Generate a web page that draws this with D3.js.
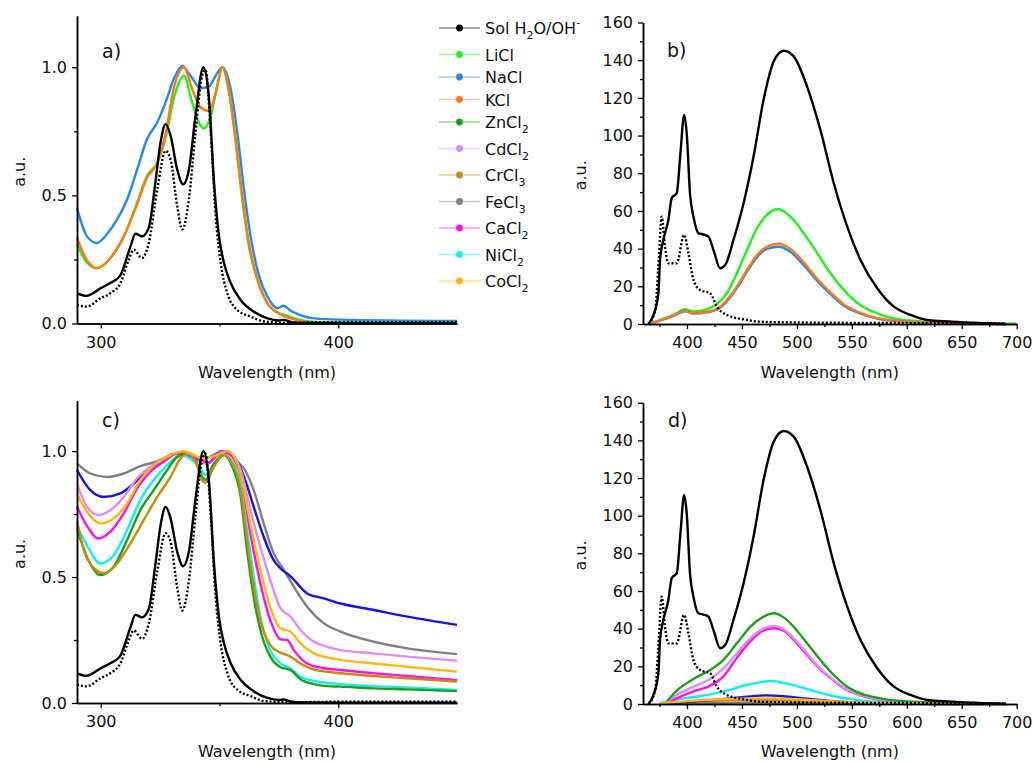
<!DOCTYPE html>
<html>
<head>
<meta charset="utf-8">
<script src="https://cdn.jsdelivr.net/npm/d3@7"></script>
<style>
  body { margin: 0; background: #fff; }
  svg text { font-family: "DejaVu Sans", sans-serif; fill: #111; }
</style>
</head>
<body>
<svg id="chart" width="1034" height="763"></svg>
<script>
// ---- absorption spectra (panels a and c), [wavelength nm, a.u.] ----
var solAbs = [[290,0.118],[294,0.108],[300,0.138],[304,0.158],[308,0.184],[312.5,0.30],[314.6,0.35],[317.4,0.34],[320.2,0.373],[323,0.55],[325.2,0.707],[327.3,0.778],[329.4,0.733],[332.2,0.60],[334.7,0.543],[337.1,0.60],[339.9,0.81],[343.2,1.0],[345.6,0.876],[347.7,0.55],[349.8,0.34],[351.9,0.236],[354.7,0.158],[358.9,0.092],[364.5,0.046],[370.2,0.02],[375,0.012],[377,0.014],[380,0.006],[385,0.002],[400,0.001],[450,0.001]];
var solAbsRef = [[290,0.073],[294,0.066],[300,0.099],[304,0.118],[308.3,0.158],[311.8,0.249],[313.9,0.288],[317.4,0.255],[320.2,0.314],[323.8,0.523],[327.3,0.674],[329.4,0.64],[332.2,0.458],[334.3,0.367],[337.1,0.484],[339.9,0.746],[342.7,0.968],[344.1,0.99],[346.3,0.746],[348.4,0.419],[350.5,0.236],[353.3,0.118],[357.5,0.053],[363.1,0.027],[368.8,0.008],[380,0.003],[400,0.005],[450,0.005]];
var naclAbs = [[290,0.45],[294.2,0.34],[298.4,0.314],[302.7,0.35],[306.9,0.406],[311.1,0.484],[315.3,0.60],[319.5,0.72],[323.8,0.785],[327.3,0.863],[330.8,0.955],[334.3,1.005],[337.8,0.967],[342,0.918],[345.6,0.925],[348.4,0.967],[351.2,1.0],[354.7,0.915],[357.5,0.745],[360.3,0.523],[363.1,0.34],[366.7,0.184],[370.2,0.105],[374.4,0.06],[377,0.069],[380,0.05],[385,0.03],[390,0.02],[400,0.015],[450,0.01]];
var liclAbs = [[290,0.31],[294,0.24],[298.4,0.216],[304,0.255],[309.7,0.34],[315.3,0.471],[319.5,0.576],[323.8,0.628],[327.3,0.725],[330.8,0.88],[335,0.967],[338.5,0.863],[341.3,0.785],[343.4,0.761],[346.3,0.81],[349.1,0.93],[351.2,1.0],[354,0.9],[356.8,0.707],[359.6,0.484],[362.4,0.30],[366,0.17],[370.2,0.079],[375,0.04],[377,0.035],[380,0.025],[385,0.012],[390,0.006],[400,0.004],[450,0.003]];
var kclAbs = [[290,0.335],[294,0.25],[298.4,0.216],[304,0.255],[309.7,0.34],[315.3,0.465],[319.5,0.57],[323.8,0.625],[327.3,0.74],[330.8,0.92],[335,1.0],[338.5,0.915],[342,0.844],[345.6,0.83],[348.4,0.9],[351.2,1.0],[354,0.915],[356.8,0.72],[359.6,0.497],[362.4,0.314],[366,0.17],[370.2,0.079],[375,0.04],[377,0.03],[380,0.02],[385,0.008],[390,0.002],[400,0.001],[450,0.001]];
var fecl3Abs = [[290,0.951],[295.6,0.911],[302.7,0.897],[309.7,0.911],[316.7,0.94],[323.8,0.96],[330.8,0.99],[335,0.997],[340.6,0.977],[344.9,0.975],[349.1,0.993],[353.3,1.0],[357.5,0.958],[361,0.92],[364.4,0.845],[368.6,0.713],[372.8,0.594],[377.1,0.528],[381.3,0.462],[386.9,0.382],[394,0.316],[401,0.283],[415,0.243],[429.1,0.217],[450,0.194]];
var blueAbs = [[290,0.925],[295.6,0.845],[301.3,0.818],[308.3,0.832],[313.9,0.871],[319.5,0.925],[325.2,0.958],[332.2,0.99],[337.8,0.98],[342,0.958],[344.9,0.951],[349.1,0.984],[353.3,0.993],[357.5,0.958],[361,0.88],[364.4,0.779],[368.6,0.66],[372.8,0.567],[375.7,0.534],[379.9,0.503],[386.9,0.435],[394,0.415],[401,0.395],[415,0.369],[429.1,0.343],[450,0.31]];
var cdcl2Abs = [[290,0.87],[294.2,0.779],[299.1,0.746],[304,0.765],[309.7,0.818],[315.3,0.892],[320.9,0.938],[326.6,0.964],[332.2,0.99],[337.8,0.977],[342,0.958],[344.9,0.951],[350.5,0.99],[354.7,0.99],[358.9,0.925],[363,0.766],[367.2,0.62],[371.4,0.488],[375.7,0.376],[379.9,0.343],[384.1,0.29],[389.7,0.243],[395.4,0.223],[401,0.21],[415,0.197],[429.1,0.184],[450,0.168]];
var cocl2Abs = [[290,0.83],[294.2,0.759],[299.8,0.713],[305.5,0.733],[311.1,0.792],[316.7,0.885],[322.3,0.944],[328,0.977],[335,1.0],[339.2,0.984],[343.4,0.97],[347.7,0.98],[353.3,1.0],[357.5,0.951],[358.8,0.912],[363,0.713],[367.2,0.528],[371.4,0.382],[375.7,0.296],[379.9,0.283],[384.1,0.237],[389.7,0.197],[395.4,0.181],[401,0.171],[415,0.157],[429.1,0.144],[450,0.124]];
var cacl2Abs = [[290,0.78],[294.2,0.703],[299.1,0.653],[304,0.68],[309.7,0.753],[315.3,0.852],[320.9,0.918],[326.6,0.958],[332.2,0.99],[337.8,0.977],[342,0.964],[345.6,0.954],[350.5,1.0],[354.7,0.984],[358.9,0.9],[363,0.673],[367.2,0.475],[371.4,0.329],[375.7,0.253],[378.5,0.25],[381.3,0.21],[386.9,0.157],[394,0.138],[401,0.131],[415,0.118],[429.1,0.107],[450,0.091]];
var nicl2Abs = [[290,0.70],[294.2,0.627],[299.8,0.554],[305.5,0.587],[311.1,0.687],[316.7,0.806],[322.3,0.885],[328,0.944],[333.6,0.984],[338.5,0.964],[342,0.931],[344.1,0.905],[347.7,0.951],[351.9,0.984],[355.4,0.958],[358.9,0.865],[361.6,0.687],[364.4,0.503],[367.2,0.343],[371.4,0.21],[375.7,0.157],[379.9,0.138],[384.1,0.104],[389.7,0.088],[395.4,0.08],[401,0.075],[415,0.067],[429.1,0.062],[450,0.052]];
var zncl2Abs = [[290,0.69],[294.2,0.58],[299.8,0.508],[305.5,0.542],[311.1,0.647],[316.7,0.766],[322.3,0.845],[328,0.925],[332.2,0.977],[336.4,0.99],[339.9,0.964],[342.7,0.898],[344.1,0.885],[347.7,0.951],[351.9,0.984],[355.4,0.938],[358.9,0.82],[361.6,0.607],[364.4,0.422],[367.2,0.29],[371.4,0.184],[375.7,0.142],[379.9,0.131],[384.1,0.094],[389.7,0.075],[395.4,0.067],[401,0.065],[415,0.058],[429.1,0.054],[450,0.047]];
var crcl3Abs = [[290,0.72],[294.2,0.574],[301.3,0.515],[306.9,0.554],[312.5,0.634],[318.1,0.726],[323.8,0.818],[329.4,0.898],[333.6,0.971],[336.4,0.99],[339.9,0.958],[342.7,0.885],[344.1,0.874],[347.7,0.938],[351.9,0.984],[355.4,0.951],[358.9,0.845],[361.6,0.647],[364.4,0.462],[367.2,0.329],[371.4,0.23],[375.7,0.2],[379.9,0.184],[384.1,0.157],[389.7,0.133],[395.4,0.124],[401,0.118],[415,0.107],[429.1,0.098],[450,0.085]];

// ---- emission spectra (panels b and d) ----
var solEm = [[365,0],[369.5,4.8],[374,16.3],[375.5,34],[378.5,44.6],[383.1,55.2],[386.1,66.8],[390.7,69.5],[394.3,92.4],[397.4,111],[399.8,101],[402.8,69],[405.9,57],[410.4,48.2],[415,47.5],[419.5,46.4],[424.1,39.3],[430.2,29.6],[434.8,31.3],[442.3,44.6],[451.5,64.1],[460.6,88.9],[469.7,119],[478.9,139.3],[488,145],[497.1,142],[509.3,126],[521.4,103],[533.6,74.7],[545.8,51.7],[557.9,34],[573.1,19],[588.3,9.2],[603.5,4.8],[618.7,2.1],[649,1],[679.4,0.3],[690,0]];
var solEmRef = [[365,0],[371,7],[374,30.4],[377,57],[380,41],[383.1,32.2],[390.7,32.2],[397.4,47.3],[401.3,37.6],[405.9,23.4],[412,18],[421.1,16.3],[427.2,9.2],[436.3,4.8],[451.5,2.5],[466.7,1.2],[500,0.8],[600,0.5],[690,0.2]];
var liclEm = [[368,0.5],[375.5,2],[387.6,4.8],[398.3,7.8],[405.9,6.7],[418,7.8],[427.2,10.6],[436.3,16.3],[445.4,26.9],[454.6,39.3],[463.7,50.8],[472.8,57.9],[483.5,60.9],[494.1,57],[506.3,48.2],[518.5,37.6],[530.6,26.9],[542.8,18],[557.9,10],[573.1,5.7],[588.3,3],[618.7,1.2],[649,0.5],[700,0.2]];
var naclEm = [[368,0.3],[375.5,1.8],[387.6,4.3],[398.3,6.8],[405.9,5.5],[418,6.2],[427.2,7.6],[436.3,12],[445.4,19],[454.6,27.8],[463.7,35.5],[472.8,39.8],[483.5,41],[494.1,38.3],[506.3,31.2],[518.5,22.8],[530.6,15.8],[542.8,9.7],[557.9,5.5],[573.1,2.9],[588.3,1.7],[620,0.5],[650,0.2],[690,0]];
var kclEm = [[368,0.3],[375.5,2],[387.6,4.5],[398.3,7.1],[405.9,5.8],[418,6.5],[427.2,8],[436.3,12.7],[445.4,19.8],[454.6,28.7],[463.7,36.6],[472.8,41],[483.5,42.6],[494.1,39.8],[506.3,32.6],[518.5,24],[530.6,16.8],[542.8,10.4],[557.9,5.9],[573.1,3.1],[588.3,1.8],[620,0.6],[650,0.3],[690,0]];
var zncl2Em = [[381.6,1.2],[390.7,7.1],[405.9,13.3],[421.1,18],[433.2,23.4],[445.4,32.2],[457.6,41],[469.7,46.4],[478.9,48.2],[488,46],[497.1,41],[509.3,32.2],[521.4,23.4],[533.6,15.4],[545.8,9.2],[557.9,5.7],[576.1,3],[603.5,1.2],[650,0.5],[690,0.2]];
var cdcl2Em = [[381.6,0.8],[390.7,4.8],[405.9,9.2],[421.1,13.3],[433.2,18.9],[445.4,26.9],[457.6,34.9],[469.7,40.2],[478.9,41.5],[488,39.7],[497.1,34.9],[509.3,26.9],[521.4,18.9],[533.6,12.7],[545.8,7.8],[557.9,4.8],[576.1,2.5],[603.5,1],[650,0.4],[690,0.1]];
var cacl2Em = [[381.6,0.5],[390.7,3],[405.9,6.7],[421.1,9.7],[433.2,14.7],[445.4,24.5],[457.6,33.3],[469.7,39.1],[478.9,40.2],[488,39],[497.1,34],[509.3,26],[521.4,18.4],[533.6,12.4],[545.8,7.4],[557.9,4.6],[576.1,2.3],[603.5,0.9],[650,0.3],[690,0.1]];
var nicl2Em = [[375.5,0.5],[390.7,2.3],[405.9,3.7],[421.1,5.1],[436.3,7.1],[451.5,9.7],[466.7,11.5],[475.8,12.2],[488,11.2],[503.2,9],[518.5,6.4],[533.6,4.1],[551.9,2.3],[573.1,1.2],[620,0.4],[690,0.1]];
var blueEm = [[380,0.2],[410,1.5],[440,3],[460,4.2],[472,4.6],[490,4],[510,2.8],[540,1.2],[580,0.4],[650,0]];
var cocl2Em = [[375,0.3],[400,1.5],[430,2.5],[460,3],[480,3],[500,2.5],[530,1.5],[570,0.6],[620,0.2],[690,0]];
var crcl3Em = [[375,0.2],[400,1],[430,1.8],[470,2.2],[500,1.8],[540,0.9],[600,0.2],[690,0]];
var fecl3Em = [[380,0.1],[430,0.6],[470,0.8],[520,0.5],[600,0.1],[690,0]];

// ---- ticks ----
var absXTicks = [300, 400];
var absXMinor = [350];
var absYTicks = [0, 0.5, 1.0];
var absYMinor = [0.25, 0.75];
var emXTicks = [400, 450, 500, 550, 600, 650, 700];
var emXMinor = [375, 425, 475, 525, 575, 625, 675];
var emYTicks = [0, 20, 40, 60, 80, 100, 120, 140, 160];
var emYMinor = [10, 30, 50, 70, 90, 110, 130, 150];

// ---- legend ----
var legendNames = [
  [["Sol H",""],["2","sub"],["O/OH",""],["-","sup"]],
  [["LiCl",""]], [["NaCl",""]], [["KCl",""]],
  [["ZnCl",""],["2","sub"]], [["CdCl",""],["2","sub"]], [["CrCl",""],["3","sub"]],
  [["FeCl",""],["3","sub"]], [["CaCl",""],["2","sub"]], [["NiCl",""],["2","sub"]],
  [["CoCl",""],["2","sub"]]
];

var col = {
  sol: "#000000", licl: "#22ee22", nacl: "#2a86ec", kcl: "#ff7a16",
  zncl2: "#1c9e1c", cdcl2: "#df8def", crcl3: "#c98a0b", fecl3: "#808080",
  cacl2: "#f814e8", nicl2: "#12eef0", cocl2: "#ffb612", blue: "#1414e6"
};
var legendColors = [col.sol, col.licl, col.nacl, col.kcl, col.zncl2, col.cdcl2,
  col.crcl3, col.fecl3, col.cacl2, col.nicl2, col.cocl2];

var svg = d3.select("#chart");

var panels = [
  { label: "a)", lx: 102, ly: 58, left: 77, right: 457, top: 16, bottom: 323.5,
    xd: [290, 450], yd: [0, 1.2], xt: absXTicks, xm: absXMinor, yt: absYTicks, ym: absYMinor,
    fmt: d3.format(".1f"), yl: 19, xtl: 378,
    series: [[naclAbs, col.nacl], [liclAbs, col.licl], [kclAbs, col.kcl],
             [solAbs, col.sol], [solAbsRef, col.sol, true]] },
  { label: "b)", lx: 667, ly: 57, left: 643, right: 1016.7, top: 22.5, bottom: 324,
    xd: [360, 700], yd: [0, 160], xt: emXTicks, xm: emXMinor, yt: emYTicks, ym: emYMinor,
    fmt: d3.format("d"), yl: 580, xtl: 378,
    series: [[liclEm, col.licl], [naclEm, col.nacl], [kclEm, col.kcl],
             [solEm, col.sol], [solEmRef, col.sol, true]] },
  { label: "c)", lx: 102, ly: 427, left: 77, right: 457, top: 400.7, bottom: 703,
    xd: [290, 450], yd: [0, 1.2], xt: absXTicks, xm: absXMinor, yt: absYTicks, ym: absYMinor,
    fmt: d3.format(".1f"), yl: 19, xtl: 757,
    series: [[fecl3Abs, col.fecl3], [blueAbs, col.blue], [cdcl2Abs, col.cdcl2],
             [cacl2Abs, col.cacl2], [nicl2Abs, col.nicl2], [zncl2Abs, col.zncl2],
             [crcl3Abs, col.crcl3], [cocl2Abs, col.cocl2],
             [solAbs, col.sol], [solAbsRef, col.sol, true]] },
  { label: "d)", lx: 668, ly: 427, left: 643, right: 1016.7, top: 402.7, bottom: 704,
    xd: [360, 700], yd: [0, 160], xt: emXTicks, xm: emXMinor, yt: emYTicks, ym: emYMinor,
    fmt: d3.format("d"), yl: 580, xtl: 757,
    series: [[fecl3Em, col.fecl3], [crcl3Em, col.crcl3], [blueEm, col.blue],
             [nicl2Em, col.nicl2], [cacl2Em, col.cacl2], [cdcl2Em, col.cdcl2],
             [zncl2Em, col.zncl2], [cocl2Em, col.cocl2],
             [solEm, col.sol], [solEmRef, col.sol, true]] }
];

panels.forEach(function(p) {
  var x = d3.scaleLinear().domain(p.xd).range([p.left, p.right]);
  var y = d3.scaleLinear().domain(p.yd).range([p.bottom, p.top]);
  var g = svg.append("g");

  var line = d3.line()
    .x(function(d) { return x(d[0]); })
    .y(function(d) { return y(d[1]); })
    .curve(d3.curveMonotoneX);

  p.series.forEach(function(s) {
    g.append("path")
      .attr("d", line(s[0]))
      .attr("fill", "none")
      .attr("stroke", s[1])
      .attr("stroke-width", 2.4)
      .attr("stroke-linejoin", "round")
      .attr("stroke-dasharray", s[2] ? "2,2" : null);
  });

  // minor ticks
  g.append("g").attr("transform", "translate(0," + p.bottom + ")")
    .call(d3.axisBottom(x).tickValues(p.xm).tickSize(3).tickSizeOuter(0).tickFormat(""));
  g.append("g").attr("transform", "translate(" + p.left + ",0)")
    .call(d3.axisLeft(y).tickValues(p.ym).tickSize(3).tickSizeOuter(0).tickFormat(""));
  // major ticks
  var xa = g.append("g").attr("transform", "translate(0," + p.bottom + ")")
    .call(d3.axisBottom(x).tickValues(p.xt).tickSize(5).tickSizeOuter(0).tickPadding(8));
  var ya = g.append("g").attr("transform", "translate(" + p.left + ",0)")
    .call(d3.axisLeft(y).tickValues(p.yt).tickSize(5).tickSizeOuter(0).tickPadding(5).tickFormat(p.fmt));

  g.selectAll(".domain").attr("stroke-width", 1.5);
  g.selectAll(".tick line").attr("stroke-width", 1.3);
  [xa, ya].forEach(function(a) {
    a.attr("font-family", null).attr("font-size", null);
    a.selectAll("text").style("font-size", "16px");
  });

  g.append("text").attr("x", p.lx).attr("y", p.ly)
    .style("font-size", "19px").text(p.label);

  g.append("text")
    .attr("transform", "translate(" + (p.yl + 5.5) + "," + ((p.top + p.bottom) / 2 + 2) + ") rotate(-90)")
    .attr("text-anchor", "middle").style("font-size", "16px").text("a.u.");

  g.append("text").attr("x", (p.left + p.right) / 2).attr("y", p.xtl)
    .attr("text-anchor", "middle").style("font-size", "16px").text("Wavelength (nm)");
});

// legend
var lg = svg.append("g");
var ly = 28;
legendNames.forEach(function(parts, i) {
  var hasSub = parts.some(function(q) { return q[1] === "sub"; });
  lg.append("line").attr("x1", 439).attr("x2", 480).attr("y1", ly).attr("y2", ly)
    .attr("stroke", legendColors[i]).attr("stroke-opacity", 0.45).attr("stroke-width", 1.6);
  lg.append("circle").attr("cx", 459.5).attr("cy", ly).attr("r", 3.4).attr("fill", legendColors[i]);
  var t = lg.append("text").attr("x", 485).attr("y", ly + 6).style("font-size", "16px");
  var shift = 0;
  parts.forEach(function(q) {
    var target = q[1] === "sub" ? 5 : q[1] === "sup" ? -8 : 0;
    var ts = t.append("tspan").attr("dy", target - shift).text(q[0]);
    if (q[1]) ts.style("font-size", "11px");
    shift = target;
  });
  ly += hasSub ? 26.5 : 22.5;
});
</script>
</body>
</html>
